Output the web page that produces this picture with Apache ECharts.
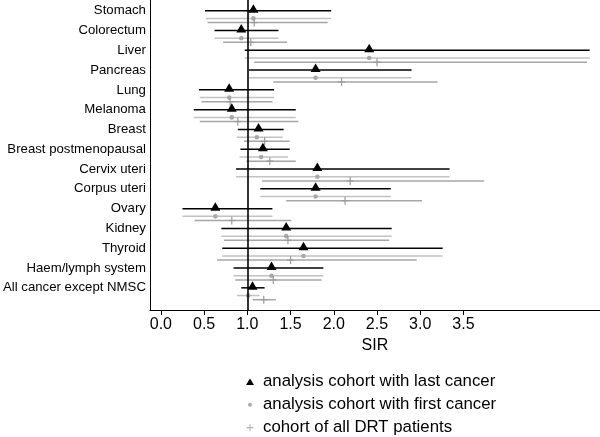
<!DOCTYPE html>
<html lang="en">
<head>
    <meta charset="UTF-8">
    <title>SIR by cancer site</title>
    <script src="https://cdn.jsdelivr.net/npm/echarts@6.0.0/dist/echarts.min.js"></script>
    <style>
        html, body { margin: 0; padding: 0; background: #fff; }
        #chart { width: 600px; height: 437px; }
    </style>
</head>
<body>
    <div id="chart"></div>
    <script>
        // cancer sites, top to bottom
        const categories = ['Stomach', 'Colorectum', 'Liver', 'Pancreas', 'Lung', 'Melanoma', 'Breast',
            'Breast postmenopausal', 'Cervix uteri', 'Corpus uteri', 'Ovary', 'Kidney', 'Thyroid',
            'Haem/lymph system', 'All cancer except NMSC'];

        // analysis cohort with last cancer
        const lastSir = [1.07, 0.93, 2.41, 1.79, 0.79, 0.82, 1.13, 1.18, 1.81, 1.79, 0.63, 1.45, 1.65, 1.28, 1.06];
        const lastLo  = [0.51, 0.62, 0.97, 1.02, 0.44, 0.38, 0.89, 0.92, 0.87, 1.15, 0.25, 0.70, 0.71, 0.84, 0.93];
        const lastHi  = [1.97, 1.36, 4.96, 2.90, 1.31, 1.56, 1.42, 1.49, 3.34, 2.66, 1.29, 2.67, 3.26, 1.88, 1.20];

        // analysis cohort with first cancer
        const firstSir = [1.07, 0.93, 2.41, 1.79, 0.79, 0.82, 1.11, 1.16, 1.81, 1.79, 0.63, 1.45, 1.65, 1.28, 1.01];
        const firstLo  = [0.52, 0.62, 0.97, 1.02, 0.45, 0.38, 0.88, 0.91, 0.87, 1.15, 0.25, 0.70, 0.71, 0.84, 0.88];
        const firstHi  = [1.97, 1.36, 4.96, 2.90, 1.31, 1.56, 1.41, 1.47, 3.34, 2.66, 1.29, 2.67, 3.26, 1.88, 1.14];

        // cohort of all DRT patients
        const allSir = [1.08, 1.04, 2.50, 2.09, 0.80, 0.89, 1.20, 1.26, 2.19, 2.13, 0.82, 1.47, 1.50, 1.30, 1.19];
        const allLo  = [0.54, 0.72, 1.08, 1.30, 0.47, 0.45, 0.96, 0.99, 1.17, 1.45, 0.39, 0.73, 0.65, 0.86, 1.06];
        const allHi  = [1.93, 1.46, 4.93, 3.20, 1.29, 1.59, 1.49, 1.56, 3.74, 3.02, 1.51, 2.64, 2.96, 1.86, 1.33];

        const xTicks = [0, 0.5, 1, 1.5, 2, 2.5, 3, 3.5];

        const FONT = '"Liberation Sans", Arial, Helvetica, sans-serif';
        const rows = categories.map((_, i) => i);

        // [lo, hi, sir, row position]
        function rowsOf(lo, hi, sir, shift) {
            return rows.map(i => [lo[i], hi[i], sir[i], i + shift]);
        }

        function makeRender(kind, lineColor, markColor) {
            return function (params, api) {
                const y = api.value(3);
                const a = api.coord([api.value(0), y]);
                const b = api.coord([api.value(1), y]);
                const c = api.coord([api.value(2), y]);
                const children = [{
                    type: 'line',
                    shape: { x1: a[0], y1: a[1], x2: b[0], y2: b[1] },
                    style: { stroke: lineColor, lineWidth: 1.5 }
                }];
                if (kind === 'tri') {
                    children.push({
                        type: 'polygon',
                        shape: { points: [[c[0], c[1] - 6.5], [c[0] - 5, c[1] + 2], [c[0] + 5, c[1] + 2]] },
                        style: { fill: markColor }
                    });
                } else if (kind === 'dot') {
                    children.push({
                        type: 'circle',
                        shape: { cx: c[0], cy: c[1], r: 2.3 },
                        style: { fill: markColor }
                    });
                } else {
                    children.push({
                        type: 'line',
                        shape: { x1: c[0], y1: c[1] - 4, x2: c[0], y2: c[1] + 4 },
                        style: { stroke: markColor, lineWidth: 1.2 }
                    });
                    children.push({
                        type: 'line',
                        shape: { x1: c[0] - 3.5, y1: c[1], x2: c[0] + 3.5, y2: c[1] },
                        style: { stroke: markColor, lineWidth: 1.2 }
                    });
                }
                return { type: 'group', children: children };
            };
        }

        const names = ['analysis cohort with last cancer', 'analysis cohort with first cancer', 'cohort of all DRT patients'];

        const chart = echarts.init(document.getElementById('chart'), null, { renderer: 'canvas' });

        const option = {
            animation: false,
            backgroundColor: '#fff',
            textStyle: { fontFamily: FONT },
            grid: { left: 148.5, right: 0, top: 0, bottom: 127, containLabel: false },
            xAxis: {
                type: 'value',
                min: -0.127,
                max: 5.08,
                name: 'SIR',
                nameLocation: 'middle',
                nameGap: 28,
                nameTextStyle: { color: '#000', fontSize: 16, fontFamily: FONT },
                splitLine: { show: false },
                axisLine: { show: true, onZero: false, lineStyle: { color: '#000', width: 1 } },
                axisTick: { show: true, length: 5, customValues: xTicks, lineStyle: { color: '#000' } },
                axisLabel: {
                    customValues: xTicks, margin: 7, color: '#000', fontSize: 16, fontFamily: FONT,
                    formatter: v => v.toFixed(1)
                }
            },
            yAxis: {
                type: 'value',
                inverse: true,
                min: -0.54,
                max: 15.12,
                splitLine: { show: false },
                axisLine: { show: true, onZero: false, lineStyle: { color: '#000', width: 1 } },
                axisTick: { show: false },
                axisLabel: {
                    customValues: rows, margin: 4, color: '#000', fontSize: 13.2, fontFamily: FONT,
                    formatter: v => categories[Math.round(v)]
                }
            },
            legend: {
                orient: 'vertical',
                left: 245,
                top: 372.5,
                height: 120,
                padding: 0,
                itemWidth: 10,
                itemHeight: 10,
                itemGap: 4.5,
                selectedMode: false,
                textStyle: { color: '#000', fontSize: 16.8, lineHeight: 18.5, fontFamily: FONT, padding: [0, 0, 0, 3] },
                data: [
                    { name: names[0], icon: 'path://M0,0M10,10M5,1.8L9,8.2L1,8.2Z' },
                    { name: names[1], icon: 'path://M0,0M10,10M7,5A2,2,0,1,1,3,5A2,2,0,1,1,7,5Z' },
                    { name: names[2], icon: 'path://M0,0M10,10M4.6,1.5H5.4V4.6H8.5V5.4H5.4V8.5H4.6V5.4H1.5V4.6H4.6Z' }
                ]
            },
            series: [
                {
                    name: names[0],
                    type: 'custom',
                    itemStyle: { color: '#000' },
                    encode: { x: [0, 1, 2], y: 3 },
                    renderItem: makeRender('tri', '#000', '#000'),
                    data: rowsOf(lastLo, lastHi, lastSir, 0),
                    z: 5,
                    markLine: {
                        silent: true,
                        symbol: 'none',
                        label: { show: false },
                        lineStyle: { color: '#000', width: 1.6, type: 'solid' },
                        data: [{ xAxis: 1 }]
                    }
                },
                {
                    name: names[1],
                    type: 'custom',
                    itemStyle: { color: '#aaaaaa' },
                    encode: { x: [0, 1, 2], y: 3 },
                    renderItem: makeRender('dot', '#c2c2c2', '#a8a8a8'),
                    data: rowsOf(firstLo, firstHi, firstSir, 0.39),
                    z: 3
                },
                {
                    name: names[2],
                    type: 'custom',
                    itemStyle: { color: '#a0a0a0' },
                    encode: { x: [0, 1, 2], y: 3 },
                    renderItem: makeRender('plus', '#a6a6a6', '#9a9a9a'),
                    data: rowsOf(allLo, allHi, allSir, 0.6),
                    z: 3
                }
            ]
        };

        chart.setOption(option);

        window.addEventListener('resize', function () {
            chart.resize();
        });
    </script>
</body>
</html>
